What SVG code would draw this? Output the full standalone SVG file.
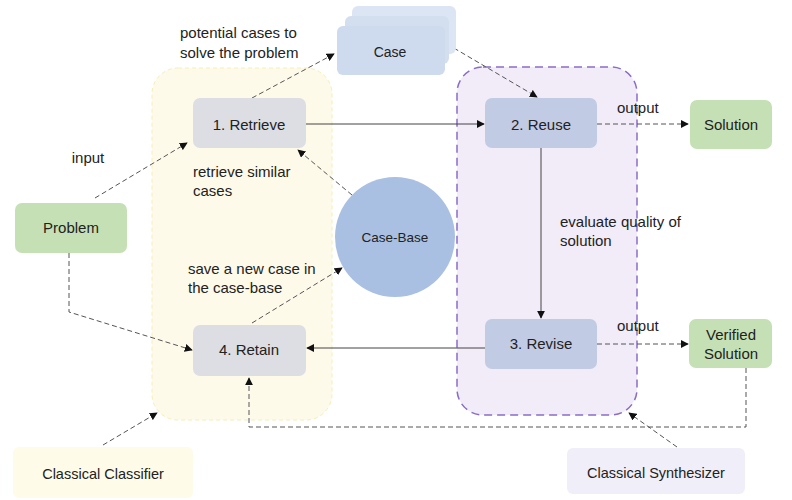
<svg xmlns="http://www.w3.org/2000/svg" width="792" height="500" viewBox="0 0 792 500">
<defs>
<marker id="ah" viewBox="0 0 10 10" refX="9" refY="5" markerWidth="8" markerHeight="8" markerUnits="userSpaceOnUse" orient="auto">
<path d="M0,0 L10,5 L0,10 z" fill="#111"/>
</marker>
<style>
text{font-family:"Liberation Sans",Arial,sans-serif;font-size:15px;fill:#222}
.c{text-anchor:middle}
.proc{fill:#dcdee4}
.proc2{fill:#c2cbe4}
.green{fill:#c6e0b5}
.dash{fill:none;stroke:#555;stroke-width:1;stroke-dasharray:5,3;marker-end:url(#ah)}
.solid{fill:none;stroke:#444;stroke-width:1;marker-end:url(#ah)}
</style>
</defs>
<rect width="792" height="500" fill="#fff"/>
<g id="classifier-region"><rect x="152" y="68" width="180" height="352" rx="26" fill="#fefaea" stroke="#f6eeb8" stroke-width="1" stroke-dasharray="4,3"/></g>
<g id="synthesizer-region"><rect x="457" y="67" width="180" height="348" rx="26" fill="#f1ecf8" stroke="#8a6cc8" stroke-width="1.5" stroke-dasharray="8,5"/></g>
<g id="connectors">
<path class="dash" d="M95,198 L187,143"/>
<path class="dash" d="M252,98 L334,54"/>
<path class="dash" d="M447,44 L537,97"/>
<path class="solid" d="M306,124 L484,124"/>
<path class="dash" d="M352,195 L298,150"/>
<path class="dash" d="M597,124 L688,124"/>
<path class="solid" d="M541,148 L541,318"/>
<path class="solid" d="M485,348 L307,348"/>
<path class="dash" d="M252,323 L342,268"/>
<path class="dash" d="M69,253 L69,312 L192,350"/>
<path class="dash" d="M597,344 L688,344"/>
<path class="dash" d="M746,368 L746,427 L249,427 L249,378"/>
<path class="dash" d="M103,445 L157,413"/>
<path class="dash" d="M677,447 L629,413"/>
</g>
<g id="labels">
<text x="180" y="38">potential cases to</text>
<text x="180" y="58">solve the problem</text>
<text x="88" y="163" class="c">input</text>
<text x="193" y="177">retrieve similar</text>
<text x="193" y="196">cases</text>
<text x="188" y="274">save a new case in</text>
<text x="188" y="293">the case-base</text>
<text x="617" y="113">output</text>
<text x="617" y="331">output</text>
<text x="560" y="227">evaluate quality of</text>
<text x="560" y="246">solution</text>
</g>
<g id="case">
<rect x="352" y="6" width="104" height="48" rx="6" fill="#dce5f3"/>
<rect x="345" y="16" width="104" height="48" rx="6" fill="#d3deef"/>
<rect x="337" y="26" width="108" height="49" rx="6" fill="#cedaee"/>
<text x="390" y="57" class="c" style="font-size:14px">Case</text>
</g>
<g id="retrieve"><rect class="proc" x="193" y="98" width="113" height="50" rx="7"/><text x="249" y="130" class="c">1. Retrieve</text></g>
<g id="reuse"><rect class="proc2" x="485" y="98" width="112" height="50" rx="7"/><text x="541" y="130" class="c">2. Reuse</text></g>
<g id="solution"><rect class="green" x="690" y="100" width="82" height="49" rx="7"/><text x="731" y="130" class="c">Solution</text></g>
<g id="problem"><rect class="green" x="15" y="203" width="112" height="50" rx="7"/><text x="71" y="233" class="c">Problem</text></g>
<g id="case-base"><circle cx="395" cy="237" r="60" fill="#a9c0e3"/><text x="395" y="242" class="c" style="font-size:13.5px">Case-Base</text></g>
<g id="retain"><rect class="proc" x="193" y="325" width="113" height="51" rx="7"/><text x="249" y="355" class="c">4. Retain</text></g>
<g id="revise"><rect class="proc2" x="485" y="319" width="112" height="50" rx="7"/><text x="541" y="349" class="c">3. Revise</text></g>
<g id="verified-solution"><rect class="green" x="689" y="319" width="83" height="49" rx="7"/><text x="731" y="340" class="c">Verified</text><text x="731" y="359" class="c">Solution</text></g>
<g id="classical-classifier"><rect x="13" y="447" width="180" height="51" rx="6" fill="#fefbe8"/><text x="103" y="479" class="c" style="font-size:14.5px">Classical Classifier</text></g>
<g id="classical-synthesizer"><rect x="567" y="448" width="178" height="46" rx="6" fill="#f0eef8"/><text x="656" y="478" class="c" style="font-size:14.5px">Classical Synthesizer</text></g>
</svg>
